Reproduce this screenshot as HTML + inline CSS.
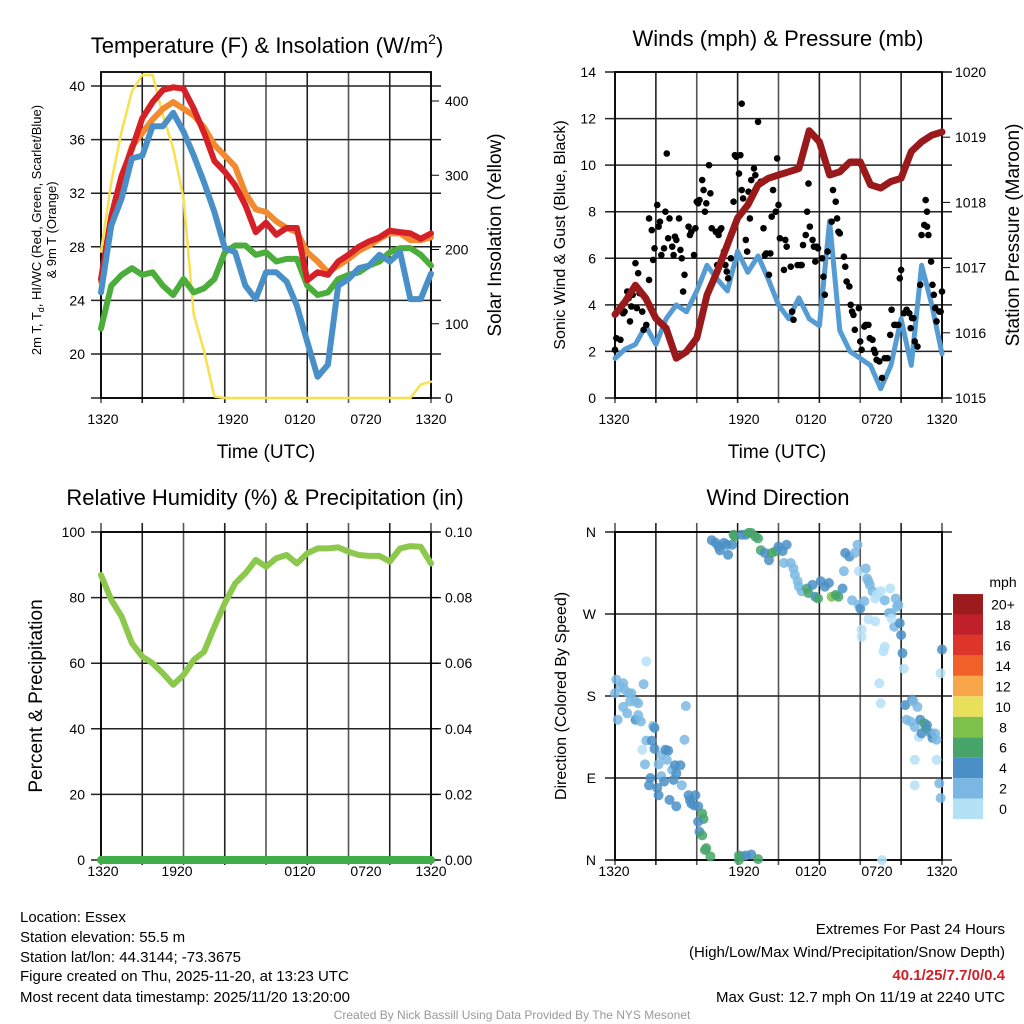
<!DOCTYPE html>
<html><head><meta charset="utf-8"><style>
body{margin:0;background:#fff;}
svg{display:block;font-family:"Liberation Sans",sans-serif;}
</style></head><body>
<svg id="chart" width="1024" height="1024" viewBox="0 0 1024 1024"></svg>
<script>
// ---- Panel 1: temperature (F) & insolation, samples every 0.75h ----
const tempHours = [0,0.75,1.5,2.25,3,3.75,4.5,5.25,6,6.75,7.5,8.25,9,9.75,10.5,11.25,12,12.75,13.5,14.25,15,15.75,16.5,17.25,18,18.75,19.5,20.25,21,21.75,22.5,23.25,24];
const tempRed = [25.6,30.3,33.3,35.3,37.6,38.8,39.7,39.9,39.8,38.3,36.5,34.4,33.6,32.6,31.1,29.1,29.8,28.9,29.4,29.4,25.5,26.1,25.9,26.9,27.4,28,28.4,28.7,29.2,29.1,29,28.6,29];
const tempOrange = [25.4,29.6,33,35.5,36.5,37.5,38.3,38.8,38.3,37.8,36.9,35.6,34.8,34,32,30.8,30.6,29.9,29.4,29.1,27.6,26.9,26.1,26.6,27.1,27.7,28.1,28.6,29,29,28.5,28.5,28.7];
const tempBlue = [24.6,29.6,31.6,34.6,34.8,37,37,38,36.6,34.8,32.8,30.6,27.9,27.6,25.1,24.1,26.1,26.1,25.4,23.6,20.9,18.3,19.2,25.1,25.6,26.4,26.6,27.4,26.9,27.6,24.1,24.1,26];
const tempGreen = [21.9,25.1,25.9,26.4,25.9,26.1,25.1,24.4,25.6,24.6,24.9,25.6,27.6,28.1,28.1,27.4,27.6,26.9,27.1,27.1,25.1,24.4,24.6,25.6,25.9,26.1,26.6,26.9,27.6,27.9,27.9,27.4,26.6];
const insolation = [197,291,359,413,435,435,381,336,269,112,63,2,0,0,0,0,0,0,0,0,0,0,0,0,0,0,0,0,0,0,0,18,22];
const tempTicks = [20,24,28,32,36,40];
const insolTicks = [0,100,200,300,400];
const timeLabels = ["1320","1920","0120","0720","1320"];
// ---- Panel 2: winds & pressure ----
const windSonic = [1.7,2.1,2.3,3.1,2.3,3.4,4.0,3.7,4.6,5.7,5.1,4.6,6.3,5.4,6.1,5.1,4.0,3.4,4.3,3.4,3.1,7.6,2.9,2.0,1.7,1.4,0.4,1.4,3.4,1.4,5.7,4.0,1.9];
const pressure = [1016.28,1016.48,1016.73,1016.53,1016.22,1016.07,1015.61,1015.71,1015.92,1016.58,1016.94,1017.35,1017.76,1017.96,1018.27,1018.37,1018.42,1018.47,1018.52,1019.1,1018.93,1018.42,1018.47,1018.62,1018.62,1018.27,1018.22,1018.32,1018.37,1018.78,1018.93,1019.03,1019.08];
const gustHours = [0,.1,.4,.6,.7,.9,1,1.1,1.2,1.3,1.5,1.6,1.7,1.8,2,2.1,2.3,2.5,2.5,2.7,2.8,2.9,3.1,3.2,3.3,3.4,3.6,3.7,3.8,3.9,4,4.2,4.3,4.4,4.5,4.7,4.8,4.9,5,5.1,5.4,5.5,5.6,5.8,5.9,6,6.1,6.2,6.4,6.5,6.6,6.7,6.9,7,7.1,7.4,7.5,7.6,7.7,7.8,8,8.1,8.2,8.3,8.5,8.7,8.8,8.9,9.1,9.2,9.3,9.3,9.4,9.6,9.7,9.8,9.9,10,10.2,10.3,10.5,10.7,10.9,11,11.1,11.3,11.4,11.5,11.6,11.8,11.9,12,12.1,12.4,12.5,12.6,12.9,13,13.1,13.4,13.6,13.7,13.8,14,14.1,14.2,14.3,14.5,14.6,14.7,14.8,14.9,15.2,15.3,15.4,15.6,15.9,16,16.2,16.3,16.4,16.5,16.8,16.9,17,17.2,17.3,17.4,17.5,17.6,17.9,18,18.1,18.3,18.4,18.6,18.7,18.9,19,19.1,19.2,19.4,19.6,19.8,20,20.2,20.3,20.5,20.6,20.8,20.9,21,21.2,21.4,21.6,21.7,21.8,21.9,22,22.2,22.4,22.5,22.7,22.8,22.9,22.9,23,23.2,23.3,23.4,23.5,23.6,23.8,23.9,24];
const gustMph = [2.07,2.57,2.5,3.64,3.71,4.57,4.29,3.29,3.93,4.43,5.79,3.86,5.36,4.5,3.71,2.93,3.14,5.07,7.71,7.21,5.93,6.43,8.29,7.36,7.57,6.14,6.43,8,10.5,6.86,7.71,6.5,6.14,6.93,6.79,7.71,6.36,6,4.57,5.29,7.36,7,7.14,6.14,7.29,8.43,8.36,8.5,9.36,8.93,8,8.36,10,8.79,7.29,7.14,5.71,7,7.21,7.29,6.29,5.71,5.43,5.14,6,8.43,10.43,10.36,9.64,10.43,8.93,12.64,8.57,6.79,6.29,8.86,7.71,9.36,9.86,9.57,11.86,9.29,7.29,6.14,6.21,5.29,6.21,7.79,8.93,8,10.29,8.29,6.86,5.5,6.79,6.5,5.64,3.71,3.36,5.71,5.71,5.71,6.57,7,8,9.21,7.36,6.79,6.5,5.86,6.5,6.43,6,5.21,4.43,6.29,7.57,8.93,8.43,7.71,7.14,7.07,6.07,5.64,5,4.79,4,3.71,3.57,2.93,3.86,2.43,2.07,3.07,3.14,3.14,2.57,2.5,2.07,1.93,1.64,1.57,0.86,1.71,1.71,2.71,3.79,3.14,3.14,3.14,5.14,5.5,3.64,3.79,3.64,3,3.43,3.43,2.43,2.21,4.86,7,7.43,8.5,8,7.36,7,5.86,4.86,4.43,3.86,3.29,3.71,3.71,4.57];
const windTicks = [0,2,4,6,8,10,12,14];
const pressTicks = [1015,1016,1017,1018,1019,1020];
// ---- Panel 3: relative humidity & precipitation ----
const rhValues = [86.9,79.3,74.2,66.1,62,60,56.9,53.4,56.4,61,63.5,71.1,78.3,84.3,87.4,91.5,89.4,92,93,90.4,93.5,95,95,95.3,94,93,92.7,92.7,91,95,95.7,95.5,90.4];
const precipValues = [0,0,0,0,0,0,0,0,0,0,0,0,0,0,0,0,0,0,0,0,0,0,0,0,0,0,0,0,0,0,0,0,0];
const rhTicks = [0,20,40,60,80,100];
const precipTicks = ["0.00","0.02","0.04","0.06","0.08","0.10"];
// ---- Panel 4: wind direction ----
const dirHours = [0,0.1,0.4,0.6,0.7,1.0,1.1,1.2,1.5,1.7,0.6,0.9,0.2,1.5,1.7,1.9,2.3,2.1,5.2,2.8,2.9,2.3,2.7,2.9,2.0,2.2,3.2,3.4,3.7,3.9,3.8,4.2,4.4,4.8,4.5,4.9,5.1,4.3,2.6,2.5,3.1,3.2,3.4,3.6,4.0,4.5,5.4,5.5,5.6,5.8,5.9,6.1,6.4,6.5,6.1,6.2,6.4,6.6,6.7,7.0,9.1,9.3,9.6,10.0,10.5,9.1,7.1,7.4,7.6,7.7,8.0,8.2,8.3,8.6,8.8,8.7,9.3,9.6,9.8,10.0,10.3,10.5,10.7,11.0,11.3,11.5,11.8,12.0,12.3,12.6,12.4,12.9,13.1,13.2,13.4,13.5,13.7,14.1,14.2,14.5,14.7,14.9,15.1,15.4,15.7,15.9,16.2,16.4,16.7,16.8,16.9,17.2,17.4,17.8,17.9,17.6,17.9,18.0,18.3,18.4,18.5,18.6,18.7,18.9,19.1,19.2,19.5,19.8,20.1,20.2,20.3,20.5,20.6,20.7,20.8,20.9,21.0,21.1,21.2,20.3,18.6,19.1,18.1,18.1,19.4,19.5,19.8,19.7,21.3,21.8,21.9,22.2,21.4,21.7,22.0,22.3,22.4,22.7,22.8,22.5,22.9,23.2,23.3,23.5,23.6,22.0,22.0,23.6,23.8,23.9,24.0,23.9,19.6];
const dirDegrees = [183,198,190,194,187,183,174,183,174,172,168,161,154,154,159,152,218,193,169,147,145,131,131,122,121,105,105,115,121,120,110,99,104,104,95,82,132,88,90,82,79,71,92,86,66,59,71,66,62,60,71,59,51,45,42,31,27,11,13,4,5,4,5,6,1,0,351,348,344,340,348,346,335,346,355,357,357,357,359,359,355,353,340,337,329,337,339,344,339,346,326,326,320,313,306,300,295,298,293,302,289,287,306,300,304,289,291,289,298,317,337,333,285,346,317,337,280,276,284,320,309,306,302,295,287,291,295,285,271,298,271,256,287,278,280,260,247,227,210,265,264,262,253,245,194,172,234,229,170,176,174,168,154,152,146,135,154,150,145,139,148,139,134,139,132,110,82,110,84,68,231,205,0];
const dirSpeed = [3,3,2,3,3,3,3,3,3,3,3,3,3,5,3,3,1,3,3,3,5,3,5,5,1,3,3,3,5,5,3,3,5,5,5,3,3,5,5,5,5,5,3,5,5,5,5,5,5,5,5,5,7,7,5,5,7,7,7,7,7,7,5,5,7,7,5,5,5,5,5,5,5,5,7,7,5,5,7,7,7,7,7,5,5,7,7,5,5,5,3,3,3,3,3,3,3,7,7,5,5,7,5,5,5,9,7,7,5,3,5,5,3,3,1,3,3,5,3,3,3,3,3,3,1,1,1,3,3,1,3,3,3,3,3,5,5,5,1,1,1,1,1,1,1,1,1,1,5,5,3,3,3,3,3,1,5,7,7,5,5,5,5,3,3,1,1,1,3,3,5,1,1];
const speedBins = ["0","2","4","6","8","10","12","14","16","18","20+"];
const speedColors = ["#b5e1f7","#7ab8e3","#4a8fc6","#47a46a","#7dc04a","#e8df5a","#f7a64a","#ef6128","#dd3529","#c1202a","#9b1b1e"];
const dirTicks = ["N","E","S","W","N"];

const NS="http://www.w3.org/2000/svg";
const svg=document.getElementById('chart');
function mk(tag,attrs,parent){const e=document.createElementNS(NS,tag);for(const k in attrs)e.setAttribute(k,attrs[k]);(parent||svg).appendChild(e);return e;}
function txt(x,y,s,size,anchor,parent,extra){const t=mk('text',Object.assign({x:x,y:y,'font-size':size,'text-anchor':anchor||'middle',fill:'#000'},extra||{}),parent);t.textContent=s;return t;}

const P1={x0:101,x1:431,y0:72,y1:398};
const P2={x0:615,x1:942,y0:72,y1:398};
const P3={x0:101,x1:431,y0:532,y1:860};
const P4={x0:615,x1:942,y0:532,y1:860};
function hx(P,h){return P.x0+(P.x1-P.x0)*h/24;}
const yTemp=v=>86+(40-v)*13.4;
const yIns=v=>398-v*0.7425;
const yWind=v=>398-v*(326/14);
const yPress=v=>398-(v-1015)*(326/5);
const yRH=v=>860-v*3.28;
const yPrecip=v=>860-v*3280;
const yDir=v=>860-v*(328/360);

function frame(P,name,vlines,hlines,topExt){
  const g=mk('g',{});
  
  
  for(let i=0;i<=8;i++){const x=P.x0+(P.x1-P.x0)*i/8;mk('line',{x1:x,x2:x,y1:P.y0-(topExt||0),y2:P.y1+5,stroke:i%2?'#222':'#555','stroke-width':1.6},g);}
  hlines.forEach(y=>mk('line',{x1:P.x0-10,x2:P.x1+10,y1:y,y2:y,stroke:'#222','stroke-width':1.5},g));
  const r=mk('rect',{x:P.x0,y:P.y0,width:P.x1-P.x0,height:P.y1-P.y0,fill:'none',stroke:'#000','stroke-width':1.8});
  
  
}
function poly(pts,color,w,name,parent){
  const p=mk('polyline',{points:pts.map(a=>a[0].toFixed(1)+','+a[1].toFixed(1)).join(' '),fill:'none',stroke:color,'stroke-width':w,'stroke-linejoin':'round','stroke-linecap':'round'},parent);
  
  
  return p;
}
function timeAxis(P,yLab,xs){
  timeLabels.forEach((s,i)=>{const t=txt(xs[i],yLab,s,14,'middle');
    
    });
}

// ===== Panel 1 =====
frame(P1,'temperature-panel',[],tempTicks.map(yTemp).concat([P1.y1]),0);
tempTicks.forEach(v=>{const t=txt(85,yTemp(v)+5,String(v),14,'end');
  
  });
insolTicks.forEach(v=>{mk('line',{x1:P1.x1,x2:P1.x1+8,y1:yIns(v),y2:yIns(v),stroke:'#000'});
  const t=txt(445,yIns(v)+5,String(v),14,'start');
  
  });
const g1=mk('g',{});


poly(tempHours.map((h,i)=>[hx(P1,h),yIns(insolation[i])]),'#f8e04e',2.5,'insolation-line',g1);
poly(tempHours.map((h,i)=>[hx(P1,h),yTemp(tempGreen[i])]),'#4cae3a',6,'dewpoint-line',g1);
poly(tempHours.map((h,i)=>[hx(P1,h),yTemp(tempOrange[i])]),'#f28a30',6,'temp-9m-line',g1);
poly(tempHours.map((h,i)=>[hx(P1,h),yTemp(tempRed[i])]),'#d42026',6,'temp-2m-line',g1);
poly(tempHours.map((h,i)=>[hx(P1,h),yTemp(tempBlue[i])]),'#4a90c8',6,'windchill-line',g1);
timeAxis(P1,424,[103,233,300,366,431]);

// ===== Panel 2 =====
frame(P2,'winds-panel',[],windTicks.map(yWind),0);
windTicks.forEach(v=>{const t=txt(596,yWind(v)+5,String(v),14,'end');
  
  });
pressTicks.forEach(v=>{mk('line',{x1:P2.x1,x2:P2.x1+8,y1:yPress(v),y2:yPress(v),stroke:'#000'});
  const t=txt(955,yPress(v)+5,String(v),14,'start');
  
  });
const g2=mk('g',{});


poly(tempHours.map((h,i)=>[hx(P2,h),yWind(windSonic[i])]),'#559bd4',5,'sonic-wind-line',g2);
gustHours.forEach((h,i)=>{const c=mk('circle',{cx:hx(P2,h),cy:yWind(gustMph[i]),r:3.3,fill:'#000'},g2);
  
  });
poly(tempHours.map((h,i)=>[hx(P2,h),yPress(pressure[i])]),'#9a1a1c',7,'pressure-line',g2);
timeAxis(P2,424,[614,744,811,877,942]);

// ===== Panel 3 =====
frame(P3,'humidity-panel',[],rhTicks.map(yRH),9);
rhTicks.forEach(v=>{const t=txt(85,yRH(v)+5,String(v),14,'end');
  
  });
precipTicks.forEach((s,i)=>{const y=yPrecip(parseFloat(s));mk('line',{x1:P3.x1,x2:P3.x1+8,y1:y,y2:y,stroke:'#000'});
  const t=txt(445,y+5,s,14,'start');
  
  });
poly(tempHours.map((h,i)=>[hx(P3,h),yRH(rhValues[i])]),'#8cc84b',6,'rh-line');
poly(tempHours.map((h,i)=>[hx(P3,h),yPrecip(precipValues[i])]),'#3fae49',8,'precip-line');
timeAxis(P3,876,[103,177,300,366,431]);

// ===== Panel 4 =====
frame(P4,'direction-panel',[],[0,90,180,270,360].map(yDir),9);
dirTicks.forEach((s,i)=>{const t=txt(596,yDir(i*90)+5,s,14,'end');
  
  });
const g4=mk('g',{});


dirHours.forEach((h,i)=>{const bin=Math.min(10,Math.floor(dirSpeed[i]/2));
  const c=mk('circle',{cx:hx(P4,h),cy:yDir(dirDegrees[i]),r:5,fill:speedColors[bin],'fill-opacity':0.85},g4);
  
  });
timeAxis(P4,876,[614,744,811,877,942]);
const cb=mk('g',{});


txt(1003,587,'mph',14,'middle',cb);
speedBins.forEach((s,i)=>{const y=819-(i+1)*20.45;
  const r=mk('rect',{x:953,y:y,width:30,height:20.45,fill:speedColors[i]},cb);
  
  
  txt(1003,y+15.5,s,14,'middle',cb);});
</script>
<svg width="1024" height="1024" style="position:absolute;left:0;top:0;pointer-events:none">
<g font-family="Liberation Sans, sans-serif" fill="#000">
<text x="267" y="53" font-size="22" text-anchor="middle">Temperature (F) &amp; Insolation (W/m<tspan font-size="14" dy="-9">2</tspan><tspan dy="9">)</tspan></text>
<text x="778" y="46" font-size="22" text-anchor="middle">Winds (mph) &amp; Pressure (mb)</text>
<text x="265" y="505" font-size="22" text-anchor="middle">Relative Humidity (%) &amp; Precipitation (in)</text>
<text x="778" y="505" font-size="22" text-anchor="middle">Wind Direction</text>
<text x="266" y="458" font-size="19" text-anchor="middle">Time (UTC)</text>
<text x="777" y="458" font-size="19" text-anchor="middle">Time (UTC)</text>
<text transform="translate(41,230) rotate(-90)" font-size="13" text-anchor="middle">2m T, T<tspan font-size="9" dy="3">d</tspan><tspan dy="-3">, HI/WC (Red, Green, Scarlet/Blue)</tspan></text>
<text transform="translate(56,230) rotate(-90)" font-size="13" text-anchor="middle">&amp; 9m T (Orange)</text>
<text transform="translate(501,235) rotate(-90)" font-size="19" text-anchor="middle">Solar Insolation (Yellow)</text>
<text transform="translate(565,235) rotate(-90)" font-size="16" text-anchor="middle">Sonic Wind &amp; Gust (Blue, Black)</text>
<text transform="translate(1019,235) rotate(-90)" font-size="19" text-anchor="middle">Station Pressure (Maroon)</text>
<text transform="translate(42,696) rotate(-90)" font-size="19" text-anchor="middle">Percent &amp; Precipitation</text>
<text transform="translate(566,696) rotate(-90)" font-size="16" text-anchor="middle">Direction (Colored By Speed)</text>
<g font-size="15">
<text x="20" y="922">Location: Essex</text>
<text x="20" y="942">Station elevation: 55.5 m</text>
<text x="20" y="962">Station lat/lon: 44.3144; -73.3675</text>
<text x="20" y="981">Figure created on Thu, 2025-11-20, at 13:23 UTC</text>
<text x="20" y="1002">Most recent data timestamp: 2025/11/20 13:20:00</text>
</g>
<g font-size="15" text-anchor="end">
<text x="1005" y="934">Extremes For Past 24 Hours</text>
<text x="1005" y="957">(High/Low/Max Wind/Precipitation/Snow Depth)</text>
<text x="1005" y="980" fill="#d01f26" font-weight="bold">40.1/25/7.7/0/0.4</text>
<text x="1005" y="1002">Max Gust: 12.7 mph On 11/19 at 2240 UTC</text>
</g>
<text x="512" y="1019" font-size="12" fill="#999" text-anchor="middle">Created By Nick Bassill Using Data Provided By The NYS Mesonet</text>
</g></svg>
</body></html>
